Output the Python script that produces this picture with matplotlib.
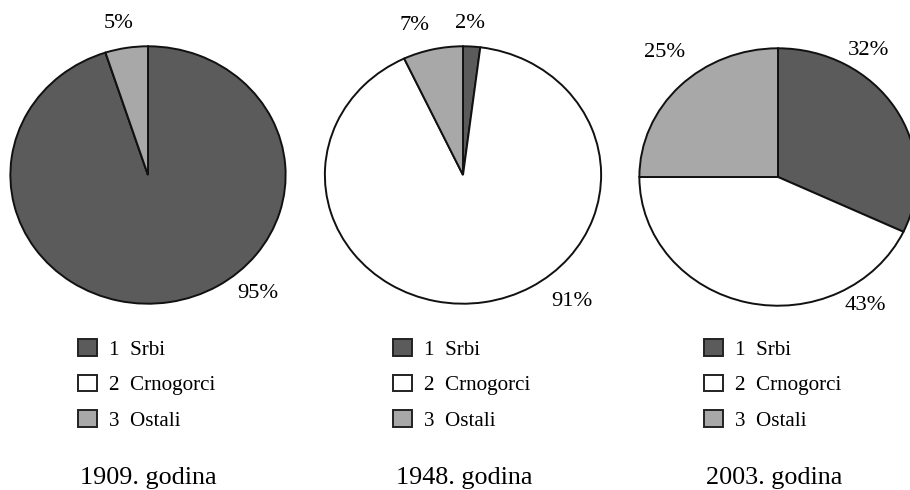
import matplotlib
matplotlib.use("Agg")
import matplotlib.pyplot as plt
from matplotlib.patches import Patch

plt.rcParams['font.family'] = ['Liberation Serif', 'DejaVu Serif']

# ---- data ----
categories = ["Srbi", "Crnogorci", "Ostali"]
years = ["1909. godina", "1948. godina", "2003. godina"]
shares_1909 = [95, 0, 5]
shares_1948 = [2, 91, 7]
shares_2003 = [32, 43, 25]
all_shares = [shares_1909, shares_1948, shares_2003]

# ---- style / layout ----
colors = ["#5b5b5b", "#ffffff", "#a8a8a8"]
W, H = 910, 490
# pie boxes in pixels: (center_x, center_y, rx, ry)
pie_boxes = [(148, 175, 139, 130), (463, 175, 139.5, 130), (778, 177, 140, 130)]
# label positions in normalised ellipse coords, one per category (None = no label)
label_pos = [
    [(0.80, -0.92), None, (-0.21, 1.18)],
    [(0.05, 1.18), (0.79, -0.98), (-0.35, 1.16)],
    [(0.65, 0.98), (0.63, -1.0), (-0.82, 0.97)],
]
legend_x = [78, 393, 704]
legend_top = 339
title_x = [148, 464, 774]
title_base = 484

fig = plt.figure(figsize=(W / 100, H / 100), dpi=100)

for i, (shares, (cx, cy, rx, ry)) in enumerate(zip(all_shares, pie_boxes)):
    ax = fig.add_axes([(cx - rx) / W, (H - cy - ry) / H, 2 * rx / W, 2 * ry / H])
    wedges, _ = ax.pie(shares, colors=colors, startangle=90, counterclock=False,
                       radius=1.0,
                       wedgeprops=dict(edgecolor="#111111", linewidth=1.4))
    ax.set_aspect("auto")
    ax.set_xlim(-1.01, 1.01)
    ax.set_ylim(-1.01, 1.01)
    ax.axis("off")
    for v, pos in zip(shares, label_pos[i]):
        if pos is None or v == 0:
            continue
        ax.text(pos[0], pos[1], f"{v}%", ha="center", va="center",
                fontsize=16.2, clip_on=False)

    handles = [Patch(facecolor=c, edgecolor="#222222", linewidth=1.4) for c in colors]
    labels = [f"{k + 1}  {name}" for k, name in enumerate(categories)]
    fig.legend(handles, labels, loc="upper left",
               bbox_to_anchor=(legend_x[i] / W, 1 - legend_top / H),
               frameon=False, fontsize=15.2, borderpad=0, borderaxespad=0,
               handlelength=0.9, handleheight=0.85, handletextpad=0.55,
               labelspacing=0.7)

    fig.text(title_x[i] / W, 1 - title_base / H, years[i], ha="center",
             va="baseline", fontsize=18.8)

fig.savefig("out.png", dpi=100)
